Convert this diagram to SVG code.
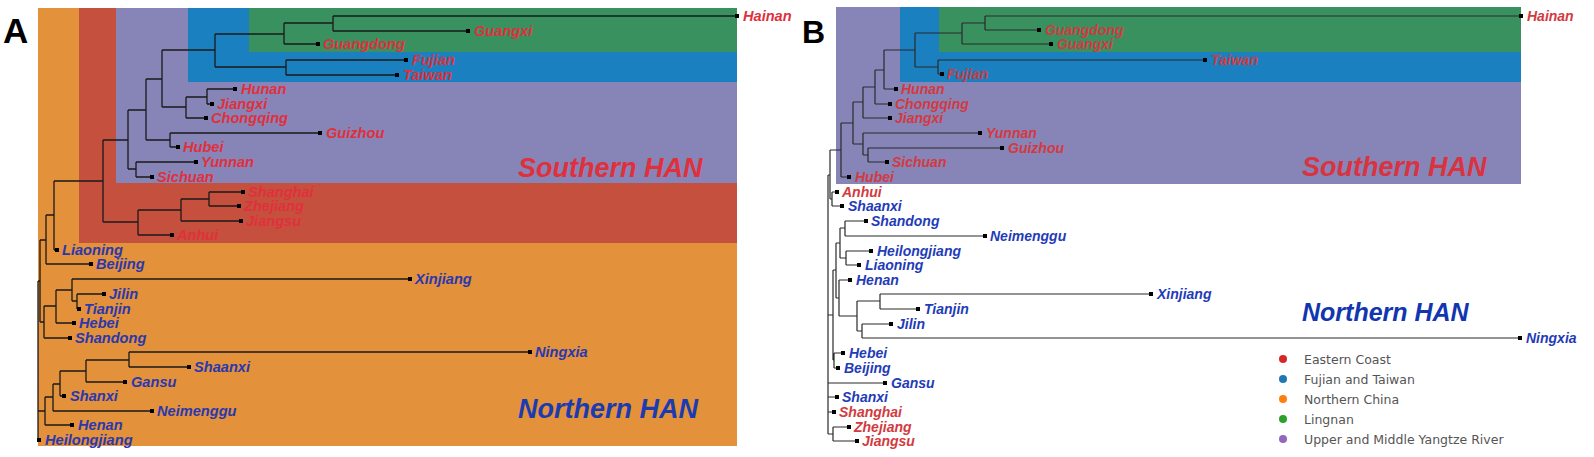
<svg xmlns="http://www.w3.org/2000/svg" width="1594" height="457" viewBox="0 0 1594 457">
<style>
.bg{fill:#ffffff}
.or{fill:#E3913B}.rd{fill:#C5503D}.pu{fill:#8784B8}.bl{fill:#1A80C0}.gr{fill:#3A9160}
.tree{fill:none;stroke:#1a1a1a;stroke-width:1.3}
.treeB{fill:none;stroke:#2a2a2a;stroke-width:1.2}
.leaf{fill:#000}
.lab{font-family:"Liberation Sans",Arial,sans-serif;font-weight:bold;font-style:italic;font-size:14px}
.s,.n{font-size:14.6px}
.s{fill:#E0303C}.n{fill:#2A38AE}
.sB{fill:#D33A40}.nB{fill:#1F3CB8}
.big{font-family:"Liberation Sans",Arial,sans-serif;font-weight:bold;font-style:italic;font-size:27px}
.panel{font-family:"Liberation Sans",Arial,sans-serif;font-weight:bold;fill:#000}
.leg{font-family:"DejaVu Sans",Verdana,sans-serif;font-size:12.5px;fill:#555}
</style>
<rect class="bg" x="0" y="0" width="1594" height="457"/>
<g id="panelA-regions">
<rect class="or" x="38" y="8" width="699" height="438"/>
<rect class="rd" x="79" y="8" width="658" height="235"/>
<rect class="pu" x="116" y="8" width="621" height="175"/>
<rect class="bl" x="188" y="8" width="549" height="74"/>
<rect class="gr" x="249" y="8" width="488" height="44"/>
</g>
<g id="panelB-regions">
<rect class="pu" x="836" y="7" width="685" height="177"/>
<rect class="bl" x="900" y="7" width="621" height="75"/>
<rect class="gr" x="939" y="7" width="582" height="45"/>
</g>
<text class="panel" x="3" y="43" font-size="35">A</text>
<text class="panel" x="802" y="43" font-size="32">B</text>
<g id="connectors">
<path class="tree" d="M333 16V31M333 16H737M333 31H468
M284 23V44M284 23H333M284 44H318
M286 60V75M286 60H406M286 75H397
M215 34V67M215 34H284M215 67H286
M207 89V104M207 89H235M207 104H212
M186 97V118M186 97H207M186 118H206
M162 50V107M162 50H215M162 107H186
M170 133V147M170 133H320M170 147H178
M146 79V140M146 79H162M146 140H170
M136 162V177M136 162H196M136 177H152
M128 110V169M128 110H146M128 169H136
M209 192V206M209 192H243M209 206H239
M181 199V221M181 199H209M181 221H241
M138 210V235M138 210H181M138 235H172
M103 140V222M103 140H128M103 222H138
M54 181V250M54 181H103M54 250H57
M46 215V264M46 215H54M46 264H91
M72 279V301M72 279H410M72 301H77
M77 294V309M77 294H104M77 309H79
M56 290V323M56 290H72M56 323H74
M44 306V338M44 306H56M44 338H70
M40 240V322M40 240H46M40 322H44
M129 352V367M129 352H530M129 367H189
M86 360V382M86 360H129M86 382H125
M60 371V396M60 371H86M60 396H64
M53 384V411M53 384H60M53 411H152
M45 397V425M45 397H53M45 425H72
M38 281V440M38 281H40M38 411H45M38 440H39"/>
<path class="treeB" d="M985 16V30M985 16H1521M985 30H1039
M962 23V44M962 23H985M962 44H1051
M938 60V74M938 60H1205M938 74H942
M915 33V67M915 33H962M915 67H938
M884 50V89M884 50H915M884 89H896
M875 70V104M875 70H884M875 104H890
M863 87V118M863 87H875M863 118H890
M868 148V162M868 148H1002M868 162H887
M863 133V155M863 133H980M863 155H868
M853 102V144M853 102H863M853 144H863
M841 123V177M841 123H853M841 177H849
M832 192V206M832 192H837M832 206H842
M845 221V236M845 221H866M845 236H985
M846 251V265M846 251H871M846 265H859
M840 228V258M840 228H845M840 258H846
M880 294V309M880 294H1151M880 309H918
M862 324V338M862 324H891M862 338H1520
M857 301V331M857 301H880M857 331H862
M839 280V316M839 280H850M839 316H857
M836 243V298M836 243H840M836 298H839
M834 353V368M834 353H843M834 368H838
M833 270V360M833 270H836M833 360H834
M833 427V441M833 427H849M833 441H857
M830 150V199M830 150H841M830 199H832
M828 175V434M828 175H830M828 315H833M828 383H885M828 397H837M828 412H834M828 434H833"/>
</g>
<g id="A-Hainan"><rect class="leaf" x="735" y="14" width="4" height="4"/><text class="lab s" x="743" y="21">Hainan</text></g>
<g id="A-Guangxi"><rect class="leaf" x="466" y="29" width="4" height="4"/><text class="lab s" x="474" y="36">Guangxi</text></g>
<g id="A-Guangdong"><rect class="leaf" x="316" y="42" width="4" height="4"/><text class="lab s" x="323" y="49">Guangdong</text></g>
<g id="A-Fujian"><rect class="leaf" x="404" y="58" width="4" height="4"/><text class="lab s" x="412" y="65">Fujian</text></g>
<g id="A-Taiwan"><rect class="leaf" x="395" y="73" width="4" height="4"/><text class="lab s" x="403" y="80">Taiwan</text></g>
<g id="A-Hunan"><rect class="leaf" x="233" y="87" width="4" height="4"/><text class="lab s" x="241" y="94">Hunan</text></g>
<g id="A-Jiangxi"><rect class="leaf" x="210" y="102" width="4" height="4"/><text class="lab s" x="217" y="109">Jiangxi</text></g>
<g id="A-Chongqing"><rect class="leaf" x="204" y="116" width="4" height="4"/><text class="lab s" x="211" y="123">Chongqing</text></g>
<g id="A-Guizhou"><rect class="leaf" x="318" y="131" width="4" height="4"/><text class="lab s" x="326" y="138">Guizhou</text></g>
<g id="A-Hubei"><rect class="leaf" x="176" y="145" width="4" height="4"/><text class="lab s" x="183" y="152">Hubei</text></g>
<g id="A-Yunnan"><rect class="leaf" x="194" y="160" width="4" height="4"/><text class="lab s" x="201" y="167">Yunnan</text></g>
<g id="A-Sichuan"><rect class="leaf" x="150" y="175" width="4" height="4"/><text class="lab s" x="157" y="182">Sichuan</text></g>
<g id="A-Shanghai"><rect class="leaf" x="241" y="190" width="4" height="4"/><text class="lab s" x="248" y="197">Shanghai</text></g>
<g id="A-Zhejiang"><rect class="leaf" x="237" y="204" width="4" height="4"/><text class="lab s" x="244" y="211">Zhejiang</text></g>
<g id="A-Jiangsu"><rect class="leaf" x="239" y="219" width="4" height="4"/><text class="lab s" x="246" y="226">Jiangsu</text></g>
<g id="A-Anhui"><rect class="leaf" x="170" y="233" width="4" height="4"/><text class="lab s" x="177" y="240">Anhui</text></g>
<g id="A-Liaoning"><rect class="leaf" x="55" y="248" width="4" height="4"/><text class="lab n" x="62" y="255">Liaoning</text></g>
<g id="A-Beijing"><rect class="leaf" x="89" y="262" width="4" height="4"/><text class="lab n" x="96" y="269">Beijing</text></g>
<g id="A-Xinjiang"><rect class="leaf" x="408" y="277" width="4" height="4"/><text class="lab n" x="415" y="284">Xinjiang</text></g>
<g id="A-Jilin"><rect class="leaf" x="102" y="292" width="4" height="4"/><text class="lab n" x="109" y="299">Jilin</text></g>
<g id="A-Tianjin"><rect class="leaf" x="77" y="307" width="4" height="4"/><text class="lab n" x="84" y="314">Tianjin</text></g>
<g id="A-Hebei"><rect class="leaf" x="72" y="321" width="4" height="4"/><text class="lab n" x="79" y="328">Hebei</text></g>
<g id="A-Shandong"><rect class="leaf" x="68" y="336" width="4" height="4"/><text class="lab n" x="75" y="343">Shandong</text></g>
<g id="A-Ningxia"><rect class="leaf" x="528" y="350" width="4" height="4"/><text class="lab n" x="535" y="357">Ningxia</text></g>
<g id="A-Shaanxi"><rect class="leaf" x="187" y="365" width="4" height="4"/><text class="lab n" x="194" y="372">Shaanxi</text></g>
<g id="A-Gansu"><rect class="leaf" x="123" y="380" width="4" height="4"/><text class="lab n" x="131" y="387">Gansu</text></g>
<g id="A-Shanxi"><rect class="leaf" x="62" y="394" width="4" height="4"/><text class="lab n" x="70" y="401">Shanxi</text></g>
<g id="A-Neimenggu"><rect class="leaf" x="150" y="409" width="4" height="4"/><text class="lab n" x="157" y="416">Neimenggu</text></g>
<g id="A-Henan"><rect class="leaf" x="70" y="423" width="4" height="4"/><text class="lab n" x="78" y="430">Henan</text></g>
<g id="A-Heilongjiang"><rect class="leaf" x="37" y="438" width="4" height="4"/><text class="lab n" x="45" y="445">Heilongjiang</text></g>
<text class="big" x="518" y="177" fill="#E0303C">Southern HAN</text>
<text class="big" x="518" y="418" fill="#1B3BB0">Northern HAN</text>
<g id="B-Hainan"><rect class="leaf" x="1519" y="14" width="4" height="4"/><text class="lab sB" x="1527" y="21">Hainan</text></g>
<g id="B-Guangdong"><rect class="leaf" x="1037" y="28" width="4" height="4"/><text class="lab sB" x="1045" y="35">Guangdong</text></g>
<g id="B-Guangxi"><rect class="leaf" x="1049" y="42" width="4" height="4"/><text class="lab sB" x="1057" y="49">Guangxi</text></g>
<g id="B-Taiwan"><rect class="leaf" x="1203" y="58" width="4" height="4"/><text class="lab sB" x="1211" y="65">Taiwan</text></g>
<g id="B-Fujian"><rect class="leaf" x="940" y="72" width="4" height="4"/><text class="lab sB" x="947" y="79">Fujian</text></g>
<g id="B-Hunan"><rect class="leaf" x="894" y="87" width="4" height="4"/><text class="lab sB" x="901" y="94">Hunan</text></g>
<g id="B-Chongqing"><rect class="leaf" x="888" y="102" width="4" height="4"/><text class="lab sB" x="895" y="109">Chongqing</text></g>
<g id="B-Jiangxi"><rect class="leaf" x="888" y="116" width="4" height="4"/><text class="lab sB" x="895" y="123">Jiangxi</text></g>
<g id="B-Yunnan"><rect class="leaf" x="978" y="131" width="4" height="4"/><text class="lab sB" x="986" y="138">Yunnan</text></g>
<g id="B-Guizhou"><rect class="leaf" x="1000" y="146" width="4" height="4"/><text class="lab sB" x="1008" y="153">Guizhou</text></g>
<g id="B-Sichuan"><rect class="leaf" x="885" y="160" width="4" height="4"/><text class="lab sB" x="892" y="167">Sichuan</text></g>
<g id="B-Hubei"><rect class="leaf" x="847" y="175" width="4" height="4"/><text class="lab sB" x="855" y="182">Hubei</text></g>
<g id="B-Anhui"><rect class="leaf" x="835" y="190" width="4" height="4"/><text class="lab sB" x="842" y="197">Anhui</text></g>
<g id="B-Shaanxi"><rect class="leaf" x="840" y="204" width="4" height="4"/><text class="lab nB" x="848" y="211">Shaanxi</text></g>
<g id="B-Shandong"><rect class="leaf" x="864" y="219" width="4" height="4"/><text class="lab nB" x="871" y="226">Shandong</text></g>
<g id="B-Neimenggu"><rect class="leaf" x="983" y="234" width="4" height="4"/><text class="lab nB" x="990" y="241">Neimenggu</text></g>
<g id="B-Heilongjiang"><rect class="leaf" x="869" y="249" width="4" height="4"/><text class="lab nB" x="877" y="256">Heilongjiang</text></g>
<g id="B-Liaoning"><rect class="leaf" x="857" y="263" width="4" height="4"/><text class="lab nB" x="865" y="270">Liaoning</text></g>
<g id="B-Henan"><rect class="leaf" x="848" y="278" width="4" height="4"/><text class="lab nB" x="856" y="285">Henan</text></g>
<g id="B-Xinjiang"><rect class="leaf" x="1149" y="292" width="4" height="4"/><text class="lab nB" x="1157" y="299">Xinjiang</text></g>
<g id="B-Tianjin"><rect class="leaf" x="916" y="307" width="4" height="4"/><text class="lab nB" x="924" y="314">Tianjin</text></g>
<g id="B-Jilin"><rect class="leaf" x="889" y="322" width="4" height="4"/><text class="lab nB" x="897" y="329">Jilin</text></g>
<g id="B-Ningxia"><rect class="leaf" x="1518" y="336" width="4" height="4"/><text class="lab nB" x="1526" y="343">Ningxia</text></g>
<g id="B-Hebei"><rect class="leaf" x="841" y="351" width="4" height="4"/><text class="lab nB" x="849" y="358">Hebei</text></g>
<g id="B-Beijing"><rect class="leaf" x="836" y="366" width="4" height="4"/><text class="lab nB" x="844" y="373">Beijing</text></g>
<g id="B-Gansu"><rect class="leaf" x="883" y="381" width="4" height="4"/><text class="lab nB" x="891" y="388">Gansu</text></g>
<g id="B-Shanxi"><rect class="leaf" x="835" y="395" width="4" height="4"/><text class="lab nB" x="842" y="402">Shanxi</text></g>
<g id="B-Shanghai"><rect class="leaf" x="832" y="410" width="4" height="4"/><text class="lab sB" x="839" y="417">Shanghai</text></g>
<g id="B-Zhejiang"><rect class="leaf" x="847" y="425" width="4" height="4"/><text class="lab sB" x="854" y="432">Zhejiang</text></g>
<g id="B-Jiangsu"><rect class="leaf" x="855" y="439" width="4" height="4"/><text class="lab sB" x="862" y="446">Jiangsu</text></g>
<text class="big" x="1302" y="176" fill="#D9333F">Southern HAN</text>
<text class="big" x="1302" y="321" style="font-size:25px" fill="#1236B0">Northern HAN</text>
<g id="legend">
<circle cx="1283" cy="359" r="4" fill="#D62728"/><text class="leg" x="1304" y="363.5">Eastern Coast</text>
<circle cx="1283" cy="379" r="4" fill="#1F77B4"/><text class="leg" x="1304" y="383.5">Fujian and Taiwan</text>
<circle cx="1283" cy="399" r="4" fill="#FF7F0E"/><text class="leg" x="1304" y="403.5">Northern China</text>
<circle cx="1283" cy="419" r="4" fill="#2CA02C"/><text class="leg" x="1304" y="423.5">Lingnan</text>
<circle cx="1283" cy="439" r="4" fill="#9467BD"/><text class="leg" x="1304" y="443.5">Upper and Middle Yangtze River</text>
</g>
</svg>
